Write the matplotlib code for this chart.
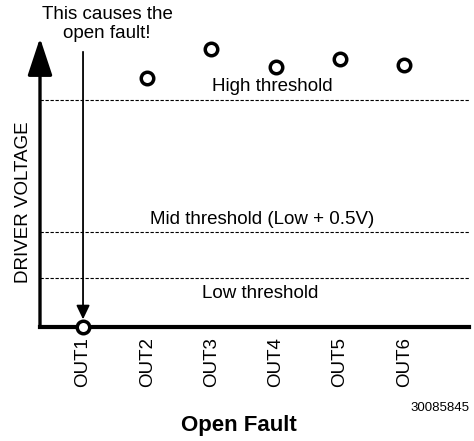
import matplotlib
matplotlib.use('Agg')
import matplotlib.pyplot as plt

plt.rcParams['font.family'] = ['Liberation Sans', 'DejaVu Sans']

# Data (volts, arbitrary scale)
outputs = ['OUT1', 'OUT2', 'OUT3', 'OUT4', 'OUT5', 'OUT6']
driver_voltage = [0.0, 2.71, 3.02, 2.82, 2.91, 2.85]
thresholds = {'High threshold': 2.47,
              'Mid threshold (Low + 0.5V)': 1.03,
              'Low threshold': 0.53}
label_x = {'High threshold': 3.94,
           'Mid threshold (Low + 0.5V)': 3.79,
           'Low threshold': 3.76}

W, H = 474, 441
fig = plt.figure(figsize=(W / 100, H / 100), dpi=100)
ax = fig.add_axes([40 / W, (H - 327) / H, (469 - 40) / W, (327 - 38) / H])

xs = list(range(1, len(outputs) + 1))
ax.set_xlim(0.33, 7.01)
ax.set_ylim(0, 3.14)

# threshold lines
for name, val in thresholds.items():
    ax.axhline(val, color='black', lw=0.8, ls=(0, (3, 1.5)), zorder=1)
    if name == 'Low threshold':
        ax.text(label_x[name], val - 0.07, name, ha='center', va='top', fontsize=13.5)
    else:
        ax.text(label_x[name], val + 0.05, name, ha='center', va='bottom', fontsize=13.5)

# points
ax.plot(xs, driver_voltage, ls='none', marker='o', ms=9, mfc='white',
        mec='black', mew=2.5, zorder=5, clip_on=False)

# arrow pointing at OUT1
ax.annotate('', xy=(xs[0], driver_voltage[0]), xytext=(xs[0], 2.99),
            arrowprops=dict(arrowstyle='-|>,head_length=0.42,head_width=0.2',
                            mutation_scale=20, lw=1.3, color='black',
                            shrinkA=0, shrinkB=5.5),
            zorder=4)

# y axis arrow
ax.annotate('', xy=(0, 1.0), xytext=(0, 0), xycoords='axes fraction',
            arrowprops=dict(arrowstyle='-|>,head_length=1.15,head_width=0.38',
                            mutation_scale=20, lw=2.4, color='black',
                            shrinkA=0, shrinkB=0))

for s in ['top', 'right', 'left']:
    ax.spines[s].set_visible(False)
ax.spines['bottom'].set_linewidth(3)

ax.set_xticks(xs)
ax.set_xticklabels(outputs, rotation=90, fontsize=13.5)
ax.tick_params(axis='x', length=0, pad=7)
ax.set_yticks([])

fig.text(24 / W, 1 - 202 / H, 'DRIVER VOLTAGE', rotation=90, ha='center',
         va='center', fontsize=13.5)
fig.text(107 / W, 1 - 24 / H, 'This causes the\nopen fault!', ha='center',
         va='center', fontsize=13.5, linespacing=1.15)
fig.text(469 / W, 1 - 408 / H, '30085845', ha='right', va='center', fontsize=9.5)
fig.text(239 / W, 1 - 426 / H, 'Open Fault', ha='center', va='center',
         fontsize=16, fontweight='bold')

fig.savefig('out.png', dpi=100)
